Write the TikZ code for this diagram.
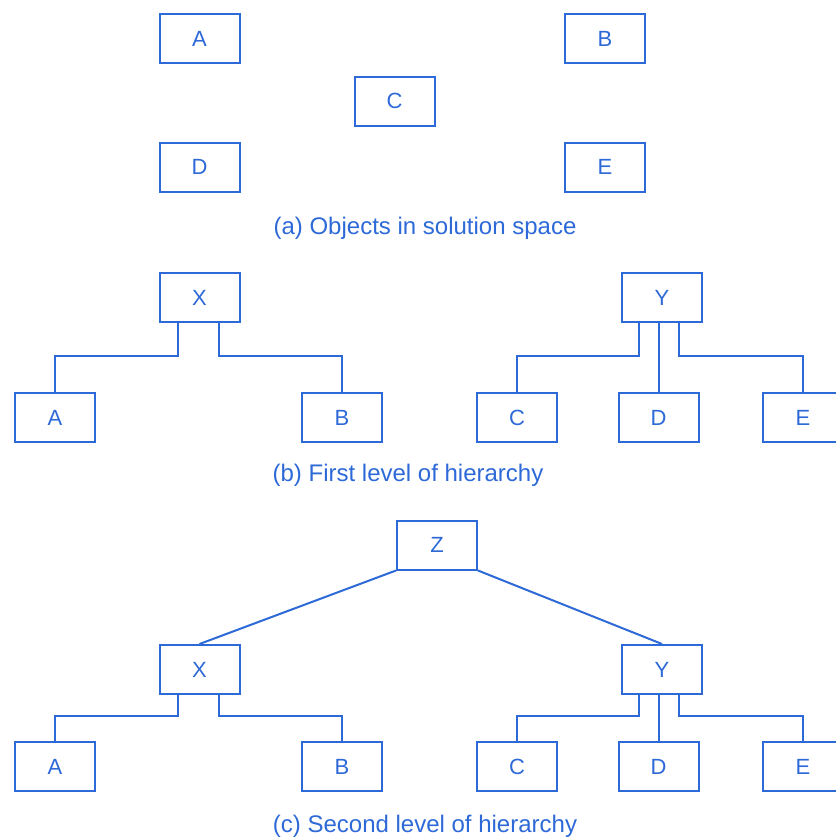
\documentclass[tikz,border=0pt]{standalone}
\usepackage{fontspec}
\setmainfont{Liberation Sans}
\definecolor{ink}{RGB}{45,105,215}
\begin{document}
\begin{tikzpicture}[x=1pt,y=-1pt,
  box/.style={draw=ink,line width=2pt,minimum width=80pt,minimum height=49pt,inner sep=0pt,
    text=ink,font=\fontsize{22}{26}\selectfont},
  captext/.style={text=ink,font=\fontsize{24}{28}\selectfont,inner sep=0pt},
  conn/.style={draw=ink,line width=2pt}]
\useasboundingbox (0,0) rectangle (836,839);
% (a)
\node[box] (aA) at (199.5,38.5) {A};
\node[box] (aB) at (605,38.5) {B};
\node[box] (aC) at (394.5,101) {C};
\node[box] (aD) at (199.5,167) {D};
\node[box] (aE) at (605,167) {E};
\node[captext] (capa) at (425,228) {(a) Objects in solution space};
% (b)
\node[box] (bX) at (199.5,297.5) {X};
\node[box] (bY) at (662,297.5) {Y};
\node[box] (bA) at (55,417.5) {A};
\node[box] (bB) at (342,417.5) {B};
\node[box] (bC) at (517,417.5) {C};
\node[box] (bD) at (658.5,417.5) {D};
\node[box] (bE) at (803,417.5) {E};
\node[captext] (capb) at (408,475) {(b) First level of hierarchy};
\draw[conn] (bX.south) ++(-22,0) -- ++(0,33) -| (bA.north);
\draw[conn] (bX.south) ++(19,0) -- ++(0,33) -| (bB.north);
\draw[conn] (bY.south) ++(-23,0) -- ++(0,33) -| (bC.north);
\draw[conn] (bY.south -| bD.north) -- (bD.north);
\draw[conn] (bY.south) ++(17,0) -- ++(0,33) -| (bE.north);
% (c)
\node[box] (cZ) at (437,545) {Z};
\node[box] (cX) at (199.5,669.5) {X};
\node[box] (cY) at (662,669.5) {Y};
\node[box] (cA) at (55,766.5) {A};
\node[box] (cB) at (342,766.5) {B};
\node[box] (cC) at (517,766.5) {C};
\node[box] (cD) at (658.5,766.5) {D};
\node[box] (cE) at (803,766.5) {E};
\node[captext] (capc) at (425,826) {(c) Second level of hierarchy};
\draw[conn] (cZ.south west) -- (cX.north);
\draw[conn] (cZ.south east) -- (cY.north);
\draw[conn] (cX.south) ++(-22,0) -- ++(0,21) -| (cA.north);
\draw[conn] (cX.south) ++(19,0) -- ++(0,21) -| (cB.north);
\draw[conn] (cY.south) ++(-23,0) -- ++(0,21) -| (cC.north);
\draw[conn] (cY.south -| cD.north) -- (cD.north);
\draw[conn] (cY.south) ++(17,0) -- ++(0,21) -| (cE.north);
\end{tikzpicture}
\end{document}
